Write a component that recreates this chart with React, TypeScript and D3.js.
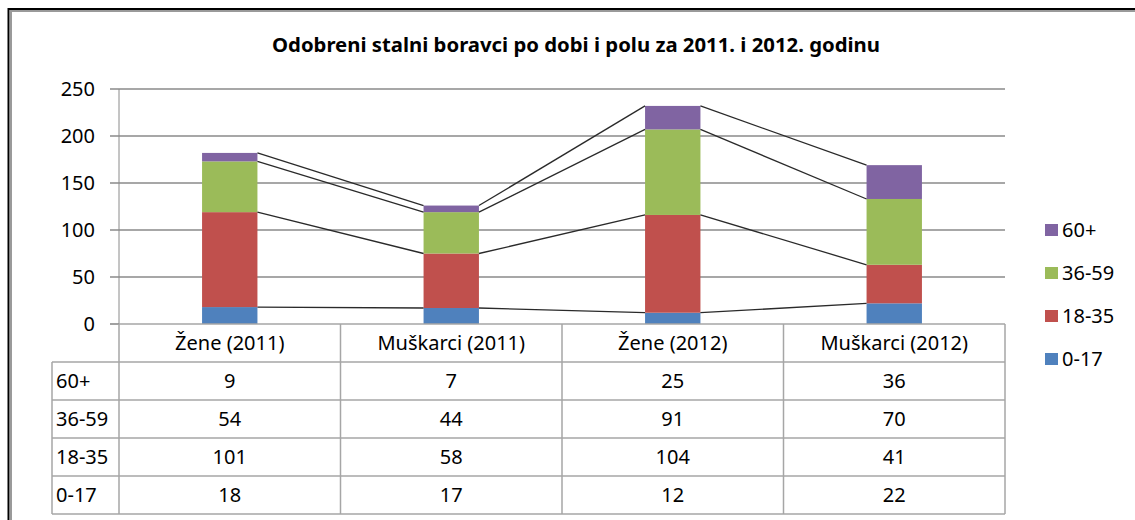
import React from "react";
import * as d3 from "d3";

const categories = ["Žene (2011)", "Muškarci (2011)", "Žene (2012)", "Muškarci (2012)"];
const seriesNames = ["0-17", "18-35", "36-59", "60+"];
const s0_17 = [18, 17, 12, 22];
const s18_35 = [101, 58, 104, 41];
const s36_59 = [54, 44, 91, 70];
const s60 = [9, 7, 25, 36];
const seriesColors = ["#4F81BD", "#C0504D", "#9BBB59", "#8064A2"];
const yTicks = [0, 50, 100, 150, 200, 250];
const title = "Odobreni stalni boravci po dobi i polu za 2011. i 2012. godinu";

const W = 1135;
const H = 520;
const FONT = "'Noto Sans', 'Open Sans', sans-serif";

export default function App() {
  const seriesValues = [s0_17, s18_35, s36_59, s60];
  const rows = categories.map((c, i) => {
    const r: any = { cat: c };
    seriesNames.forEach((s, k) => (r[s] = seriesValues[k][i]));
    return r;
  });
  const stacked = d3.stack().keys(seriesNames)(rows);

  const plotLeft = 119;
  const plotRight = 1005;
  const x = d3
    .scaleBand()
    .domain(categories)
    .range([plotLeft, plotRight])
    .paddingInner(0.75)
    .paddingOuter(0.375);
  const step = x.step();
  const colX = d3.scaleBand().domain(categories).range([plotLeft, plotRight]).padding(0);
  const y = d3.scaleLinear().domain([0, 250]).range([324, 89]);

  const tableTop = 324;
  const headerH = 38;
  const rowH = 38;
  const tableLeft = 52;
  const tableRows = [...seriesNames].reverse();
  const tableBottom = tableTop + headerH + rowH * tableRows.length;
  const gridColor = "#8a8a8a";
  const tableColor = "#a6a6a6";

  return (
    <svg
      width={W}
      height={H}
      style={{ position: "absolute", left: 0, top: 0, background: "#fff" }}
    >
      <rect x={0} y={0} width={W} height={H} fill="#fff" />
      {/* frame */}
      <line x1={8} x2={W} y1={9} y2={9} stroke="#000" strokeWidth={2} />
      <line x1={10} x2={W} y1={11} y2={11} stroke="#9a9a9a" strokeWidth={2} />
      <line x1={8.5} x2={8.5} y1={8} y2={H} stroke="#000" strokeWidth={2} />
      <line x1={11} x2={11} y1={10} y2={H} stroke="#9a9a9a" strokeWidth={2} />

      {/* title */}
      <text
        x={576}
        y={52}
        textAnchor="middle"
        fontFamily={FONT}
        fontWeight="bold"
        fontSize={19}
        textLength={608}
        lengthAdjust="spacingAndGlyphs"
        fill="#000"
      >
        {title}
      </text>

      {/* gridlines */}
      {yTicks.slice(1).map((t) => (
        <line
          key={t}
          x1={110}
          x2={plotRight}
          y1={y(t)}
          y2={y(t)}
          stroke={gridColor}
          strokeWidth={1.6}
        />
      ))}
      <line x1={110} x2={plotLeft} y1={y(0)} y2={y(0)} stroke={gridColor} strokeWidth={1.6} />
      <line x1={plotLeft} x2={plotLeft} y1={y(250)} y2={y(0)} stroke={gridColor} strokeWidth={1} />
      {yTicks.map((t) => (
        <text
          key={t}
          x={95}
          y={y(t) + 7}
          textAnchor="end"
          fontFamily={FONT}
          fontSize={20}
          fill="#000"
        >
          {t}
        </text>
      ))}

      {/* bars */}
      {stacked.map((s, k) => (
        <g key={s.key} fill={seriesColors[k]}>
          {s.map((d, i) => (
            <rect
              key={i}
              x={x(categories[i])}
              y={y(d[1])}
              width={x.bandwidth()}
              height={y(d[0]) - y(d[1])}
            />
          ))}
        </g>
      ))}

      {/* series lines */}
      {stacked.map((s) => (
        <g key={"sl" + s.key}>
          {s.slice(0, -1).map((d, i) => (
            <line
              key={i}
              x1={(x(categories[i]) as number) + x.bandwidth()}
              y1={y(d[1])}
              x2={x(categories[i + 1]) as number}
              y2={y(s[i + 1][1])}
              stroke="#2a2a2a"
              strokeWidth={1.3}
            />
          ))}
        </g>
      ))}

      {/* data table */}
      <g stroke={tableColor} strokeWidth={1.5}>
        <line x1={plotLeft} x2={plotRight} y1={tableTop} y2={tableTop} />
        {tableRows.map((_, r) => (
          <line
            key={r}
            x1={tableLeft}
            x2={plotRight}
            y1={tableTop + headerH + r * rowH}
            y2={tableTop + headerH + r * rowH}
          />
        ))}
        <line x1={tableLeft} x2={plotRight} y1={tableBottom} y2={tableBottom} />
        <line x1={tableLeft} x2={tableLeft} y1={tableTop + headerH} y2={tableBottom} />
        {categories.map((c) => (
          <line key={c} x1={colX(c)} x2={colX(c)} y1={tableTop} y2={tableBottom} />
        ))}
        <line x1={plotRight} x2={plotRight} y1={tableTop} y2={tableBottom} />
      </g>
      {categories.map((c) => (
        <text
          key={c}
          x={(colX(c) as number) + step / 2}
          y={tableTop + headerH / 2 + 7}
          textAnchor="middle"
          fontFamily={FONT}
          fontSize={20}
          fill="#000"
        >
          {c}
        </text>
      ))}
      {tableRows.map((name, r) => {
        const k = seriesNames.indexOf(name);
        const cy = tableTop + headerH + r * rowH + rowH / 2 + 7;
        return (
          <g key={name}>
            <text x={56} y={cy} fontFamily={FONT} fontSize={20} fill="#000">
              {name}
            </text>
            {categories.map((c, i) => (
              <text
                key={c}
                x={(colX(c) as number) + step / 2}
                y={cy}
                textAnchor="middle"
                fontFamily={FONT}
                fontSize={20}
                fill="#000"
              >
                {seriesValues[k][i]}
              </text>
            ))}
          </g>
        );
      })}

      {/* legend */}
      {tableRows.map((name, r) => {
        const k = seriesNames.indexOf(name);
        const cy = 230 + r * 43;
        return (
          <g key={"lg" + name}>
            <rect x={1045} y={cy - 6} width={13} height={12} fill={seriesColors[k]} />
            <text x={1062} y={cy + 7} fontFamily={FONT} fontSize={20} fill="#000">
              {name}
            </text>
          </g>
        );
      })}
    </svg>
  );
}
